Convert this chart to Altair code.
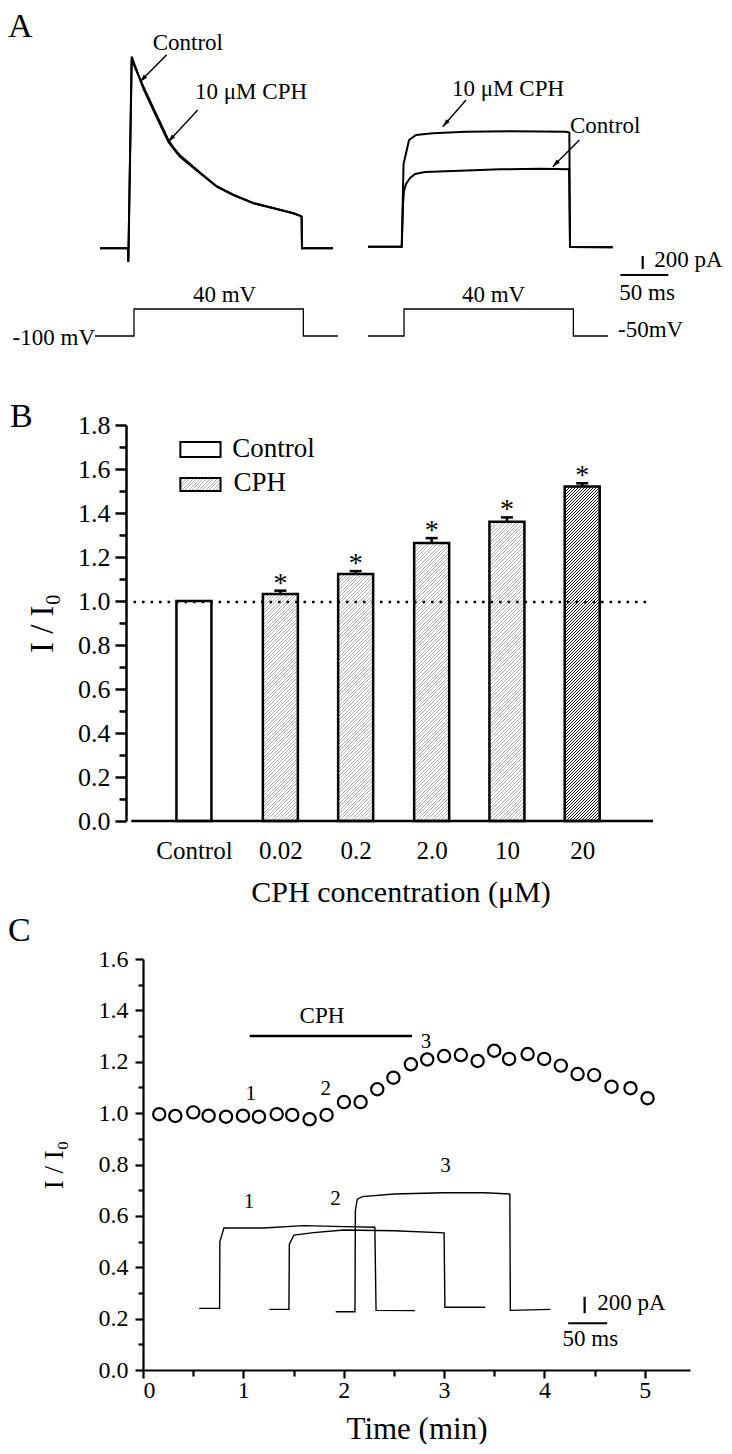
import math
import altair as alt
import pandas as pd

FONT = "Liberation Serif"

# ======================================================= DATA
# ---- Panel A : current traces (time in ms, current in pA)
a_left_time = [0, 29.2, 29.5, 33.0, 45.1, 55.5, 71.1, 77.1, 83.3, 104.2, 121.6, 138.8,
               159.7, 180.5, 201.4, 208.3, 210.0, 210.4, 242.7]
a_left_control = [0, 0, -211, 2950, 2462, 2128, 1640, 1520, 1409, 1154, 948, 820,
                  692, 615, 538, 500, 486, 0, 0]
a_left_cph = [0, 0, -200, 2900, 2490, 2160, 1670, 1540, 1430, 1165, 955, 826,
              698, 620, 540, 502, 488, 0, 0]
a_right_time_control = [0, 35.1, 36.5, 37.5, 39.6, 43.8, 49.0, 59.4, 95.8,
                        137.5, 179.2, 209.4, 210.4, 254.9]
a_right_control = [25, 25, 700, 880, 990, 1082, 1143, 1174, 1194,
                   1215, 1225, 1215, 20, 15]
a_right_time_cph = [0, 35.1, 37.0, 39.6, 42.7, 50.0, 67.4, 102.0, 150.0,
                    206.3, 209.7, 210.4, 254.9]
a_right_cph = [25, 25, 1300, 1462, 1666, 1743, 1769, 1794, 1800,
               1794, 1780, 20, 15]
# voltage protocols (0 = holding level, 1 = test level)
a_prot_left_time = [-5.2, 35.4, 35.4, 211.8, 211.8, 247.9]
a_prot_right_time = [0, 37.5, 37.5, 213.9, 213.9, 250.0]
a_prot_level = [0, 0, 1, 1, 0, 0]
a_holding_labels = ["-100 mV", "-50mV"]
a_test_label = "40 mV"
a_trace_labels = ["Control", "10 μM CPH", "10 μM CPH", "Control"]
a_scale_pa = 200
a_scale_ms = 50

# ---- Panel B : I/I0 vs CPH concentration
b_labels = ["Control", "0.02", "0.2", "2.0", "10", "20"]
b_mean = [1.0, 1.032, 1.123, 1.264, 1.36, 1.52]
b_sem = [0, 0.015, 0.013, 0.022, 0.02, 0.015]
b_star = ["", "*", "*", "*", "*", "*"]
b_ref = 0.995
b_legend = ["Control", "CPH"]

# ---- Panel C : time course
c_time = [0.162, 0.322, 0.501, 0.654, 0.827, 0.996, 1.155, 1.332, 1.487, 1.66,
          1.829, 2.002, 2.168, 2.334, 2.495, 2.669, 2.832, 3.0, 3.167, 3.334,
          3.499, 3.648, 3.832, 3.997, 4.163, 4.33, 4.495, 4.668, 4.857, 5.027]
c_ratio = [0.996, 0.989, 1.003, 0.99, 0.986, 0.99, 0.986, 0.996, 0.993, 0.976,
           0.993, 1.043, 1.043, 1.093, 1.138, 1.19, 1.209, 1.222, 1.226, 1.203,
           1.243, 1.211, 1.23, 1.211, 1.185, 1.152, 1.148, 1.103, 1.097, 1.058]
c_cph_start, c_cph_end, c_cph_level = 1.063, 2.68, 1.30
c_tr1_t = [0.56, 0.763, 0.766, 0.806, 1.2, 1.6, 2.0, 2.31, 2.322, 2.71]
c_tr1_v = [0.240, 0.240, 0.50, 0.553, 0.553, 0.562, 0.558, 0.556, 0.232, 0.231]
c_tr2_t = [1.26, 1.454, 1.458, 1.504, 1.7, 2.0, 2.5, 3.0, 3.008, 3.41]
c_tr2_v = [0.236, 0.236, 0.49, 0.525, 0.535, 0.545, 0.542, 0.534, 0.244, 0.244]
c_tr3_t = [1.92, 2.112, 2.116, 2.134, 2.184, 2.5, 3.0, 3.4, 3.655, 3.66, 4.06]
c_tr3_v = [0.227, 0.227, 0.62, 0.664, 0.675, 0.685, 0.690, 0.690, 0.685, 0.232, 0.236]
c_point_tags = ["1", "2", "3"]

# ======================================================= LAYOUT
A_W, A_H = 560, 279
A_PX_MS, A_PX_PA, A_PX_LEVEL = 0.96, 0.065, 27
A_T0, A_I0, A_V0 = 44.79, -595.4, 1.815
A_SWEEP2 = 279.2
B_W, B_H = 515, 396
B_PX_SLOT, B_SHIFT = 76, 17
b_slot = [0.84, 2.0, 3.01, 4.03, 5.04, 6.05]
b_hatch = ["none", "light", "light", "light", "light", "dark"]
C_W, C_H = 547, 411
SPACING = 138

a_note_t = [54.9, 99.0, 366.7, 489.6]
a_note_i = [3051, 2292, 2343, 1778]
a_arrow = [(69.5, 2979, 41.7, 2563), (101.8, 2128, 71.1, 1640),
           (381.3, 2282, 357.0, 1871), (499.3, 1666, 471.6, 1255)]
a_test_t, a_test_lvl = [129.7, 409.9], 1.259
a_hold_pos = [(-5.2, -0.333, "right"), (539.6, -0.037, "left")]
a_bar_t, a_bar_i, a_bar_hi = 565.3, -118, -410.8
a_bar_t0 = 542

b_leg_box = [(0.658, 1.197, 1.723, 1.655), (0.658, 1.197, 1.559, 1.5)]
b_leg_text = [(1.355, 1.656), (1.37, 1.5)]

c_tag_pts = [(1.073, 1.074), (1.82, 1.094), (2.82, 1.278)]
c_tag_trace = [(1.056, 0.655), (1.919, 0.665), (3.015, 0.795)]
c_cph_text = (1.783, 1.378)
c_bar_x, c_bar_y0, c_bar_y1 = 4.40, 0.285, 0.221
c_hbar_y, c_hbar_x0, c_hbar_x1 = 0.182, 4.236, 4.625

ARROW = "M0,0L0.75,2.6L-0.75,2.6Z"


def hatch(w, h, period, lw, fg, bg="white"):
    """Diagonal '/' stripes as a linear gradient (x+y constant lines)."""
    L = w + h
    den = w * w + h * h
    stops = []
    k = 0
    while k * period < L:
        o0 = k * period / L
        o1 = min((k * period + period - lw) / L, 1)
        o2 = min((k + 1) * period / L, 1)
        stops += [{"offset": round(o0, 6), "color": bg},
                  {"offset": round(o1, 6), "color": bg},
                  {"offset": round(o1, 6), "color": fg},
                  {"offset": round(o2, 6), "color": fg}]
        k += 1
    return {"gradient": "linear", "x1": 0, "y1": 0,
            "x2": w * L / den, "y2": h * L / den, "stops": stops}


def fill_for(style, w, h):
    if style == "light":
        return hatch(w, h, 3.5, 1.0, "#b3b3b3")
    if style == "dark":
        return hatch(w, h, 3.0, 1.0, "#1a1a1a")
    return "white"


def letter(ch, x, y):
    return alt.Chart(pd.DataFrame({"s": [ch]})).mark_text(
        font=FONT, fontSize=34, align="left", baseline="alphabetic", color="black"
    ).encode(text="s:N", x=alt.value(x), y=alt.value(y))


# ======================================================= PANEL A
a_x = alt.Scale(domain=[A_T0, A_T0 + A_W / A_PX_MS], nice=False, zero=False)
a_i = alt.Scale(domain=[A_I0, A_I0 + A_H / A_PX_PA], nice=False, zero=False)
a_v = alt.Scale(domain=[A_V0, A_V0 + A_H / A_PX_LEVEL], nice=False, zero=False)


def rows(name, ts, vs, off, key):
    return [{"trace": name, "k": k, "t": t + off, key: v} for k, (t, v) in enumerate(zip(ts, vs))]


a_traces = pd.DataFrame(
    rows("Lc", a_left_time, a_left_control, 0, "i") + rows("Lp", a_left_time, a_left_cph, 0, "i")
    + rows("Rc", a_right_time_control, a_right_control, A_SWEEP2, "i")
    + rows("Rp", a_right_time_cph, a_right_cph, A_SWEEP2, "i"))
a_prot = pd.DataFrame(rows("L", a_prot_left_time, a_prot_level, 0, "lvl")
                      + rows("R", a_prot_right_time, a_prot_level, A_SWEEP2, "lvl"))

AX = lambda f: alt.X(f, type="quantitative", scale=a_x, axis=None)
AI = lambda f: alt.Y(f, type="quantitative", scale=a_i, axis=None)
AV = lambda f: alt.Y(f, type="quantitative", scale=a_v, axis=None)

a_lines = alt.Chart(a_traces).mark_line(color="black", strokeWidth=2.0).encode(
    x=AX("t"), y=AI("i"), detail="trace:N", order="k:Q")
a_prot_lines = alt.Chart(a_prot).mark_line(color="black", strokeWidth=1.3).encode(
    x=AX("t"), y=AV("lvl"), detail="trace:N", order="k:Q")

a_notes = alt.Chart(pd.DataFrame({"s": a_trace_labels, "t": a_note_t, "i": a_note_i})).mark_text(
    font=FONT, fontSize=23, align="left", baseline="alphabetic", color="black"
).encode(x=AX("t"), y=AI("i"), text="s:N")

arr = pd.DataFrame([{"t0": a, "i0": b, "t1": c, "i1": d,
                     "ang": math.degrees(math.atan2((c - a) * A_PX_MS, (d - b) * A_PX_PA)) % 360}
                    for a, b, c, d in a_arrow])
a_shafts = alt.Chart(arr).mark_rule(color="black", strokeWidth=1.4).encode(
    x=AX("t0"), y=AI("i0"), x2="t1:Q", y2="i1:Q")
a_heads = alt.Chart(arr).mark_point(shape=ARROW, size=36, filled=True, color="black", opacity=1).encode(
    x=AX("t1"), y=AI("i1"), angle=alt.Angle("ang:Q", scale=None))

a_test = alt.Chart(pd.DataFrame({"s": [a_test_label] * 2, "t": a_test_t, "v": [a_test_lvl] * 2})).mark_text(
    font=FONT, fontSize=23, align="center", baseline="alphabetic", color="black"
).encode(x=AX("t"), y=AV("v"), text="s:N")
a_hold = [alt.Chart(pd.DataFrame({"s": [lab], "t": [p[0]], "v": [p[1]]})).mark_text(
    font=FONT, fontSize=23, align=p[2], baseline="alphabetic", color="black"
).encode(x=AX("t"), y=AV("v"), text="s:N") for lab, p in zip(a_holding_labels, a_hold_pos)]

sb = pd.DataFrame({"t0": [a_bar_t, a_bar_t0], "t1": [a_bar_t, a_bar_t0 + a_scale_ms],
                   "i0": [a_bar_i, a_bar_hi], "i1": [a_bar_i - a_scale_pa, a_bar_hi]})
a_sb = alt.Chart(sb).mark_rule(color="black", strokeWidth=2.2).encode(
    x=AX("t0"), x2="t1:Q", y=AI("i0"), y2="i1:Q")
a_sb_text = alt.Chart(pd.DataFrame({"s": [f"{a_scale_pa} pA", f"{a_scale_ms} ms"],
                                    "t": [577.4, 541.0], "i": [-283, -795]})).mark_text(
    font=FONT, fontSize=23, align="left", baseline="alphabetic", color="black"
).encode(x=AX("t"), y=AI("i"), text="s:N")

panel_a = alt.layer(a_lines, a_prot_lines, a_notes, a_shafts, a_heads, a_test, *a_hold,
                    a_sb, a_sb_text, letter("A", -135, 29)).resolve_scale(y="independent").properties(
    width=A_W, height=A_H)

# ======================================================= PANEL B
b_x = alt.Scale(domain=[B_SHIFT / B_PX_SLOT, (B_SHIFT + B_W) / B_PX_SLOT], nice=False, zero=False)
b_y = alt.Scale(domain=[0, 1.8], nice=False, zero=False)
b_px_y = B_H / 1.8

bar_records = [{"slot": s, "lab": l, "m": m, "e": e, "top": m + e, "base": 0, "star": st,
                "fill": fill_for(hs, 35, m * b_px_y)}
               for s, l, m, e, st, hs in zip(b_slot, b_labels, b_mean, b_sem, b_star, b_hatch)]
bdata = alt.Data(values=bar_records)

label_expr = " : ".join(f"abs(datum.value - {s}) < 0.3 ? '{l}'" for s, l in zip(b_slot, b_labels)) + " : ''"
b_xaxis = alt.Axis(values=b_slot, labelExpr=label_expr, ticks=False, tickSize=0, domain=False,
                   labelFontSize=25, labelPadding=17, labelFlush=False, labelOverlap=False,
                   title="CPH concentration (μM)", titleFontSize=30, titlePadding=14)
b_yaxis = alt.Axis(values=[round(0.2 * k, 1) for k in range(10)], format=".1f", tickSize=11,
                   tickWidth=2.5, domainWidth=2.5, labelPadding=5, labelFontSize=26,
                   labelOverlap=False, title="I / I₀", titleFontSize=33, titlePadding=18,
                   offset=B_SHIFT)
b_minor = alt.Axis(values=[round(0.1 + 0.2 * k, 1) for k in range(9)], labels=False, domain=False,
                   tickSize=7, tickWidth=2.5, title=None, offset=B_SHIFT, orient="left")

BX = lambda f, axis=None: alt.X(f, type="quantitative", scale=b_x, axis=axis)
BY = lambda f, axis=None: alt.Y(f, type="quantitative", scale=b_y, axis=axis)

b_bars = alt.Chart(bdata).mark_bar(orient="vertical", size=35, stroke="black", strokeWidth=2.5).encode(
    x=BX("slot", b_xaxis), y=BY("m", b_yaxis), y2="base:Q",
    fill=alt.Fill("fill:N", scale=None, legend=None))
b_minor_l = alt.Chart(bdata).mark_point(opacity=0).encode(x=BX("slot"), y=BY("m", b_minor))
b_err = alt.Chart(bdata).transform_filter("datum.e > 0").mark_rule(color="black", strokeWidth=2.5).encode(
    x=BX("slot"), y=BY("m"), y2="top:Q")
b_cap = alt.Chart(bdata).transform_filter("datum.e > 0").mark_tick(
    orient="horizontal", size=12, thickness=2.5, color="black", opacity=1).encode(x=BX("slot"), y=BY("top"))
b_stars = alt.Chart(bdata).mark_text(font=FONT, fontSize=28, align="center", baseline="alphabetic",
                                     color="black", dy=1).encode(x=BX("slot"), y=BY("top"), text="star:N")
b_refline = alt.Chart(pd.DataFrame({"x0": [0.03], "x1": [6.93], "y": [b_ref]})).mark_rule(
    color="black", strokeWidth=2.5, strokeDash=[2.5, 6]).encode(x=BX("x0"), x2="x1:Q", y=BY("y"))
b_base = alt.Chart(pd.DataFrame({"x0": [0], "x1": [(B_SHIFT + B_W) / B_PX_SLOT], "y": [0]})).mark_rule(
    color="black", strokeWidth=2.5).encode(x=BX("x0"), x2="x1:Q", y=BY("y"))
leg_records = [{"x0": bx[0], "x1": bx[1], "y0": bx[2], "y1": bx[3],
                "fill": fill_for(st, (bx[1] - bx[0]) * B_PX_SLOT, (bx[2] - bx[3]) * b_px_y)}
               for bx, st in zip(b_leg_box, ["none", "light"])]
b_leg_rect = alt.Chart(alt.Data(values=leg_records)).mark_rect(stroke="black", strokeWidth=2).encode(
    x=BX("x0"), x2="x1:Q", y=BY("y0"), y2="y1:Q", fill=alt.Fill("fill:N", scale=None, legend=None))
b_leg_txt = alt.Chart(pd.DataFrame({"s": b_legend, "x": [p[0] for p in b_leg_text],
                                    "y": [p[1] for p in b_leg_text]})).mark_text(
    font=FONT, fontSize=27, align="left", baseline="alphabetic", color="black").encode(
    x=BX("x"), y=BY("y"), text="s:N")

panel_b = alt.layer(b_bars, b_minor_l, b_refline, b_err, b_cap, b_stars, b_base, b_leg_rect, b_leg_txt,
                    letter("B", -133, 2)).resolve_axis(x="independent", y="independent").properties(
    width=B_W, height=B_H)

# ======================================================= PANEL C
c_x = alt.Scale(domain=[0, 5.45], nice=False, zero=False)
c_y = alt.Scale(domain=[0, 1.6], nice=False, zero=False)
CX = lambda f, axis=None: alt.X(f, type="quantitative", scale=c_x, axis=axis)
CY = lambda f, axis=None: alt.Y(f, type="quantitative", scale=c_y, axis=axis)

c_xaxis = alt.Axis(values=[0, 1, 2, 3, 4, 5], format="d", tickSize=8, tickWidth=2.2, domainWidth=2.2,
                   labelPadding=0, labelFontSize=24, labelOverlap=False,
                   title="Time (min)", titleFontSize=31, titlePadding=12)
c_yaxis = alt.Axis(values=[round(0.2 * k, 1) for k in range(9)], format=".1f", tickSize=8, tickWidth=2.2,
                   domainWidth=2.2, labelPadding=7, labelFontSize=24, labelOverlap=False,
                   title="I / I₀", titleFontSize=27, titlePadding=30)
c_xminor = alt.Axis(values=[0.5, 1.5, 2.5, 3.5, 4.5], labels=False, domain=False, tickSize=6,
                    tickWidth=2.2, title=None, orient="bottom")
c_yminor = alt.Axis(values=[round(0.1 + 0.2 * k, 1) for k in range(8)], labels=False, domain=False,
                    tickSize=5, tickWidth=2.2, title=None, orient="left")

cdf = pd.DataFrame({"t": c_time, "r": c_ratio})
c_pts = alt.Chart(cdf).mark_point(shape="circle", filled=False, size=150, strokeWidth=2.2,
                                  color="black", opacity=1).encode(x=CX("t", c_xaxis), y=CY("r", c_yaxis))
c_min = alt.Chart(cdf).mark_point(opacity=0).encode(x=CX("t", c_xminor), y=CY("r", c_yminor))

ctr = pd.DataFrame(rows("1", c_tr1_t, c_tr1_v, 0, "v") + rows("2", c_tr2_t, c_tr2_v, 0, "v")
                   + rows("3", c_tr3_t, c_tr3_v, 0, "v"))
c_traces = alt.Chart(ctr).mark_line(color="black", strokeWidth=1.4).encode(
    x=CX("t"), y=CY("v"), detail="trace:N", order="k:Q")
c_cph = alt.Chart(pd.DataFrame({"x0": [c_cph_start], "x1": [c_cph_end], "y": [c_cph_level]})).mark_rule(
    color="black", strokeWidth=2.5).encode(x=CX("x0"), x2="x1:Q", y=CY("y"))
tags = pd.DataFrame({"s": ["CPH"] + c_point_tags + c_point_tags,
                     "x": [c_cph_text[0]] + [p[0] for p in c_tag_pts] + [p[0] for p in c_tag_trace],
                     "y": [c_cph_text[1]] + [p[1] for p in c_tag_pts] + [p[1] for p in c_tag_trace],
                     "fs": [23, 21, 21, 21, 21, 21, 21]})
c_tags = alt.Chart(tags).mark_text(font=FONT, align="center", baseline="middle", color="black").encode(
    x=CX("x"), y=CY("y"), text="s:N", size=alt.Size("fs:Q", scale=None, legend=None))
csb = pd.DataFrame({"x0": [c_bar_x, c_hbar_x0], "x1": [c_bar_x, c_hbar_x1],
                    "y0": [c_bar_y0, c_hbar_y], "y1": [c_bar_y1, c_hbar_y]})
c_sb = alt.Chart(csb).mark_rule(color="black", strokeWidth=2.2).encode(
    x=CX("x0"), x2="x1:Q", y=CY("y0"), y2="y1:Q")
c_sb_text = alt.Chart(pd.DataFrame({"s": [f"{a_scale_pa} pA", f"{a_scale_ms} ms"],
                                    "x": [4.525, 4.18], "y": [0.2335, 0.092]})).mark_text(
    font=FONT, fontSize=23, align="left", baseline="alphabetic", color="black").encode(
    x=CX("x"), y=CY("y"), text="s:N")

panel_c = alt.layer(c_pts, c_min, c_traces, c_cph, c_tags, c_sb, c_sb_text,
                    letter("C", -135, -18)).resolve_axis(x="independent", y="independent").properties(
    width=C_W, height=C_H)

chart = alt.vconcat(panel_a, panel_b, panel_c, spacing=SPACING, bounds="flush").properties(
    padding=0, background="white"
).configure_view(stroke=None).configure_axis(
    labelFont=FONT, titleFont=FONT, labelColor="black", titleColor="black", domainColor="black",
    tickColor="black", titleFontWeight="normal", grid=False)

chart.save("out.html", embed_options={"renderer": "svg", "actions": False})
